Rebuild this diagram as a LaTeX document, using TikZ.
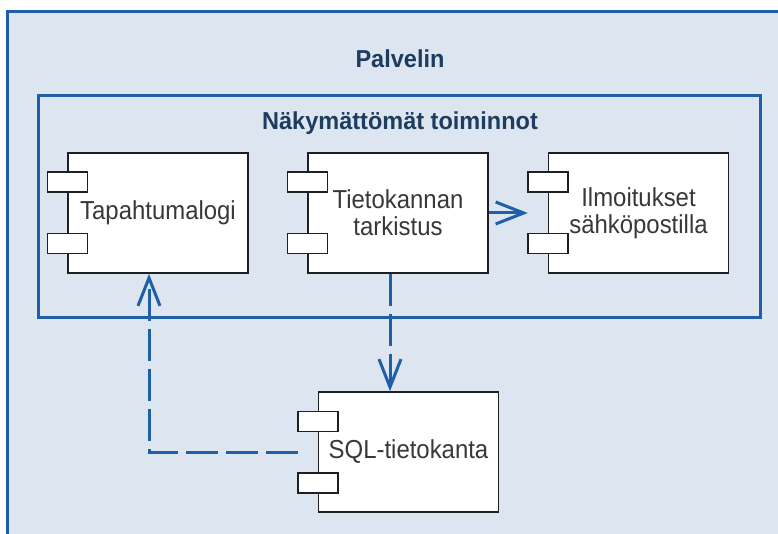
\documentclass[tikz,border=0pt]{standalone}
\usepackage{fontspec}
\setmainfont{Liberation Sans}
\newfontfamily\compfont{Liberation Sans}[FakeStretch=0.92]
\newfontfamily\headfont{Liberation Sans}[FakeStretch=0.96]
\usetikzlibrary{arrows.meta}
\definecolor{paneblue}{HTML}{DDE5F0}
\definecolor{edgeblue}{HTML}{1F5FA8}
\definecolor{headtext}{HTML}{1E3C5E}
\definecolor{bodytext}{HTML}{383838}
\tikzset{
  borderline/.style={draw=edgeblue, line width=3pt},
  heading/.style={font=\headfont\bfseries\fontsize{24.5}{26}\selectfont, text=headtext, anchor=base, inner sep=0pt},
  component/.style={draw=black!88, line width=1.5pt, fill=white, minimum width=180pt,
    minimum height=120pt, inner sep=0pt, align=center,
    font=\compfont\fontsize{26}{27}\selectfont, text=bodytext},
  port/.style={draw=black!88, line width=1.5pt, fill=white},
  link/.style={draw=edgeblue, line width=3pt, -{Straight Barb[length=28pt,width=22pt]}},
  dependency/.style={link, dash pattern=on 32pt off 8pt},
}
% the two small port rectangles on the left edge of a component box
\newcommand\compports[1]{%
  \draw[port] ([xshift=-20pt,yshift=-20pt]#1.north west) rectangle ([xshift=20pt,yshift=-40pt]#1.north west);
  \draw[port] ([xshift=-20pt,yshift=20pt]#1.south west) rectangle ([xshift=20pt,yshift=40pt]#1.south west);
}
\begin{document}
\begin{tikzpicture}[x=1pt,y=-1pt]
  \useasboundingbox (0,0) rectangle (778,534);
  \clip (0,0) rectangle (778,534);
  \fill[white] (0,0) rectangle (778,534);

  % server frame and the group of background services
  \draw[borderline, fill=paneblue] (7,12) rectangle (800,560);
  \draw[borderline] (38,96) rectangle (760,317);
  \node[heading] (server) at (400,68) {Palvelin};
  \node[heading] (hidden) at (400,130) {Näkymättömät toiminnot};

  % components
  \node[component] (log)  at (158,213)   {Tapahtumalogi};
  \node[component] (chk)  at (398,213)   {Tietokannan\\tarkistus};
  \node[component] (mail) at (638.5,213) {Ilmoitukset\\sähköpostilla};
  \node[component] (sql)  at (408.5,452) {SQL-tietokanta};
  \compports{log}
  \compports{chk}
  \compports{mail}
  \compports{sql}

  % connectors
  \draw[link] (chk.east) -- ([xshift=-20pt]mail.west);
  \draw[dependency] ([xshift=-8pt]chk.south) -- ([xshift=-8pt]chk.south |- sql.north);
  \draw[dependency] ([xshift=-20pt]sql.west) -| ([xshift=-9pt]log.south);
\end{tikzpicture}
\end{document}
